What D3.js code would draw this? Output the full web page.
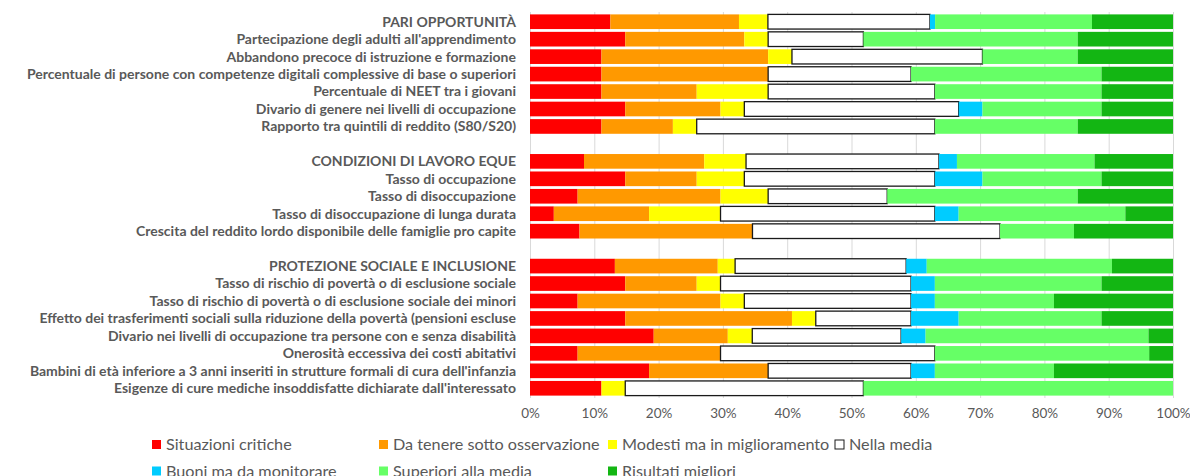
<!DOCTYPE html>
<html>
<head>
<meta charset="utf-8">
<script src="https://cdnjs.cloudflare.com/ajax/libs/d3/7.8.5/d3.min.js"></script>
<style>
  body { margin: 0; background: #fff; }
  .lbl { font-family: Lato, "Open Sans", sans-serif; font-weight: bold; font-size: 14px; fill: #595959; }
  .axis text { font-family: Lato, sans-serif; font-size: 13.5px; fill: #595959; }
  .leg text { font-family: Lato, sans-serif; font-size: 16.2px; fill: #595959; }
</style>
</head>
<body>
<script>
// righe del grafico ("" = riga vuota di separazione)
var categories = [
  "PARI OPPORTUNITÀ",
  "Partecipazione degli adulti all'apprendimento",
  "Abbandono precoce di istruzione e formazione",
  "Percentuale di persone con competenze digitali complessive di base o superiori",
  "Percentuale di NEET tra i giovani",
  "Divario di genere nei livelli di occupazione",
  "Rapporto tra quintili di reddito (S80/S20)",
  "",
  "CONDIZIONI DI LAVORO EQUE",
  "Tasso di occupazione",
  "Tasso di disoccupazione",
  "Tasso di disoccupazione di lunga durata",
  "Crescita del reddito lordo disponibile delle famiglie pro capite",
  "",
  "PROTEZIONE SOCIALE E INCLUSIONE",
  "Tasso di rischio di povertà o di esclusione sociale",
  "Tasso di rischio di povertà o di esclusione sociale dei minori",
  "Effetto dei trasferimenti sociali sulla riduzione della povertà (pensioni escluse",
  "Divario nei livelli di occupazione tra persone con e senza disabilità",
  "Onerosità eccessiva dei costi abitativi",
  "Bambini di età inferiore a 3 anni inseriti in strutture formali di cura dell'infanzia",
  "Esigenze di cure mediche insoddisfatte dichiarate dall'interessato"
];

var seriesNames = ["Situazioni critiche", "Da tenere sotto osservazione", "Modesti ma in miglioramento",
  "Nella media", "Buoni ma da monitorare", "Superiori alla media", "Risultati migliori"];

// quote in %
var critiche     = [12.5, 14.8, 11.1, 11.1, 11.1, 14.8, 11.1, 0,  8.4, 14.8,  7.4,  3.7,  7.7, 0, 13.2, 14.8,  7.4, 14.8, 19.2,  7.4, 18.5, 11.1];
var osservazione = [20.0, 18.5, 25.9, 25.9, 14.8, 14.8, 11.1, 0, 18.7, 11.1, 22.2, 14.8, 26.9, 0, 16.0, 11.1, 22.2, 25.9, 11.5, 22.2, 18.5,  0  ];
var modesti      = [ 4.5,  3.7,  3.7,  0,   11.1,  3.7,  3.7, 0,  6.5,  7.4,  7.4, 11.1,  0,   0,  2.7,  3.7,  3.7,  3.7,  3.8,  0,    0,    3.7];
var media        = [25.2, 14.8, 29.6, 22.2, 25.9, 33.3, 37.0, 0, 30.0, 29.6, 18.5, 33.3, 38.5, 0, 26.6, 29.6, 25.9, 14.8, 23.1, 33.3, 22.2, 37.0];
var buoni        = [ 0.8,  0,    0,    0,    0,    3.7,  0,   0,  2.8,  7.4,  0,    3.7,  0,   0,  3.2,  3.7,  3.7,  7.4,  3.8,  0,    3.7,  0  ];
var superiori    = [24.4, 33.3, 14.8, 29.6, 25.9, 18.5, 22.2, 0, 21.4, 18.5, 29.6, 25.9, 11.5, 0, 28.8, 25.9, 18.5, 22.2, 34.6, 33.3, 18.5, 48.1];
var migliori     = [12.6, 14.8, 14.8, 11.1, 11.1, 11.1, 14.8, 0, 12.2, 11.1, 14.8,  7.4, 15.4, 0,  9.5, 11.1, 18.5, 11.1,  3.8,  3.7, 18.5,  0  ];

var xTicks = [0, 0.1, 0.2, 0.3, 0.4, 0.5, 0.6, 0.7, 0.8, 0.9, 1];
var colors = ["#ff0000", "#ff9900", "#ffff00", "#ffffff", "#00ccff", "#66ff66", "#13b613"];

var allSeries = [critiche, osservazione, modesti, media, buoni, superiori, migliori];
var rows = categories.map(function(c, i) {
  var r = { i: i, name: c };
  seriesNames.forEach(function(s, k) { r[s] = allSeries[k][i]; });
  return r;
});

var W = 1190, H = 476;
var svg = d3.select("body").append("svg").attr("width", W).attr("height", H);

var x = d3.scaleLinear().domain([0, 1]).range([530, 1173]);
var y = d3.scaleBand().domain(d3.range(categories.length)).range([13, 397])
          .paddingInner(0.16).paddingOuter(0.08);

// griglia
svg.append("g")
   .attr("transform", "translate(0,398)")
   .call(d3.axisBottom(x).tickValues(xTicks).tickSize(-386).tickFormat(""))
   .call(function(g) { g.select(".domain").remove(); })
   .selectAll("line").attr("stroke", "#d9d9d9");

var stack = d3.stack().keys(seriesNames).offset(d3.stackOffsetExpand);
var stacked = stack(rows);

svg.selectAll("g.serie")
   .data(stacked)
   .enter().append("g")
   .attr("class", "serie")
   .attr("fill", function(d, k) { return colors[k]; })
   .attr("stroke", function(d, k) { return k == 3 ? "#1a1a1a" : "none"; })
   .attr("stroke-width", 1.3)
   .selectAll("rect")
   .data(function(d) { return d.filter(function(p) { return p[1] - p[0] > 0; }); })
   .enter().append("rect")
   .attr("x", function(p) { return x(p[0]); })
   .attr("y", function(p) { return y(p.data.i); })
   .attr("width", function(p) { return x(p[1]) - x(p[0]); })
   .attr("height", y.bandwidth());

// etichette delle righe
svg.append("g").selectAll("text")
   .data(rows.filter(function(r) { return r.name; }))
   .enter().append("text")
   .attr("class", "lbl")
   .attr("x", 516)
   .attr("y", function(r) { return y(r.i) + y.bandwidth() / 2; })
   .attr("dy", "0.35em")
   .attr("text-anchor", "end")
   .text(function(r) { return r.name; });

// asse x
var axis = d3.axisBottom(x).tickValues(xTicks).tickFormat(d3.format(".0%")).tickSize(0).tickPadding(10);
svg.append("g")
   .attr("class", "axis")
   .attr("transform", "translate(0,398)")
   .call(axis)
   .call(function(g) { g.select(".domain").remove(); });

// legenda
var legX = [152, 379, 608, 835, 152, 379, 608];
var legY = [444.5, 444.5, 444.5, 444.5, 471, 471, 471];
var leg = svg.append("g").attr("class", "leg").selectAll("g")
   .data(seriesNames)
   .enter().append("g")
   .attr("transform", function(d, k) { return "translate(" + legX[k] + "," + legY[k] + ")"; });
leg.append("rect")
   .attr("x", 0).attr("y", -4.5).attr("width", 9).attr("height", 9)
   .attr("fill", function(d, k) { return colors[k]; })
   .attr("stroke", function(d, k) { return k == 3 ? "#1a1a1a" : "none"; });
leg.append("text")
   .attr("x", 14).attr("dy", "0.35em")
   .text(function(d) { return d; });
</script>
</body>
</html>
